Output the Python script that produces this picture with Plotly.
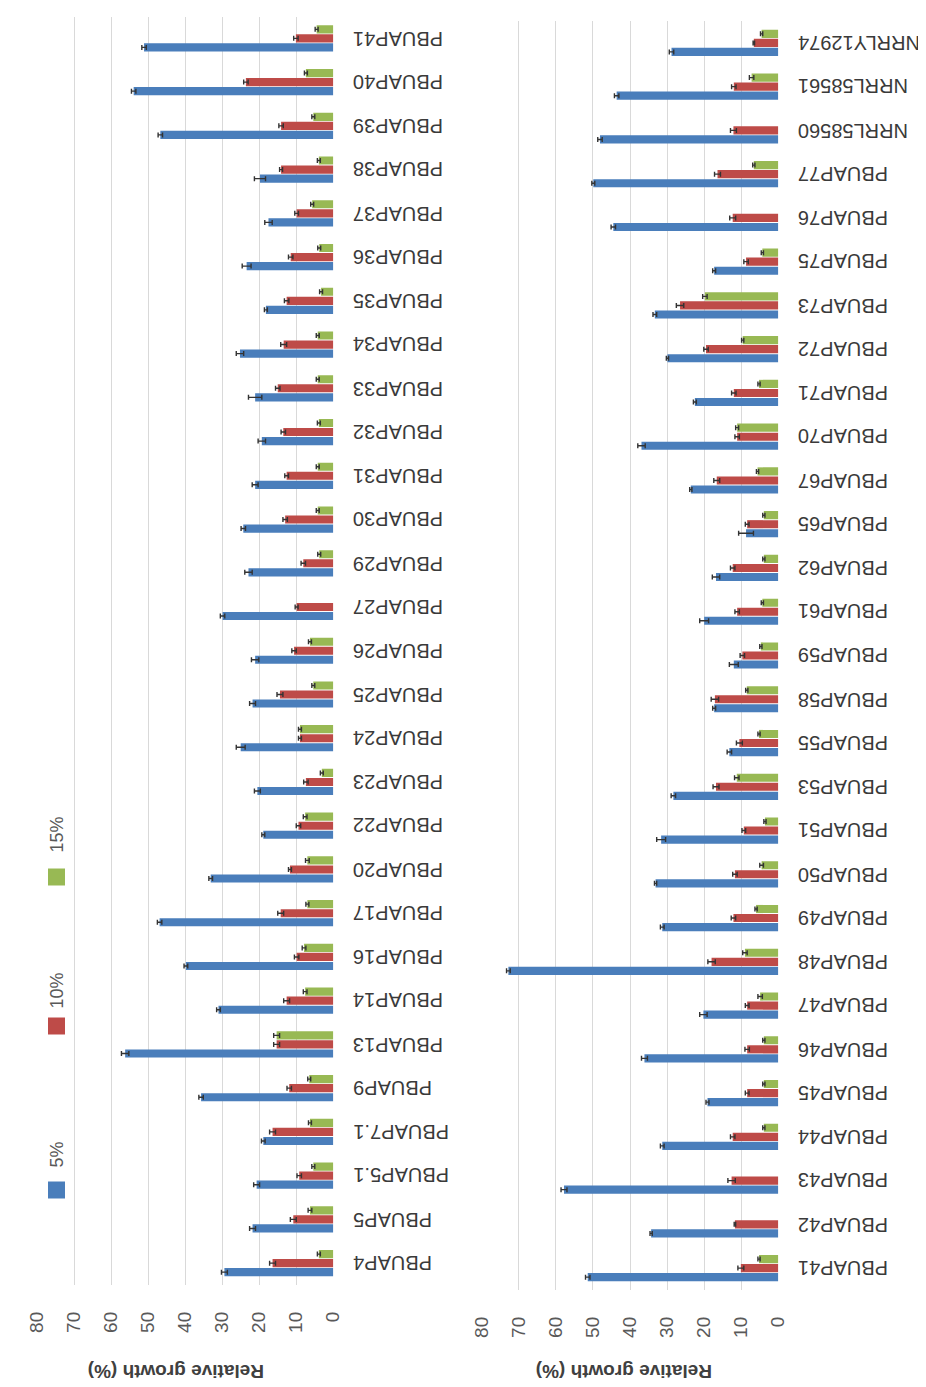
import plotly.graph_objects as go

# ---------------- data (bottom -> top order) ----------------
cats_left = ["PBUAP4", "PBUAP5", "PBUAP5.1", "PBUAP7.1", "PBUAP9", "PBUAP13", "PBUAP14",
             "PBUAP16", "PBUAP17", "PBUAP20", "PBUAP22", "PBUAP23", "PBUAP24", "PBUAP25",
             "PBUAP26", "PBUAP27", "PBUAP29", "PBUAP30", "PBUAP31", "PBUAP32", "PBUAP33",
             "PBUAP34", "PBUAP35", "PBUAP36", "PBUAP37", "PBUAP38", "PBUAP39", "PBUAP40",
             "PBUAP41"]
blue_left = [29.4, 21.8, 20.7, 18.9, 35.7, 56.2, 31.0, 39.8, 46.9, 33.1, 18.9, 20.5, 25.0, 21.8,
             21.1, 29.9, 22.9, 24.3, 21.1, 19.3, 21.1, 25.2, 18.2, 23.4, 17.5, 19.8, 46.7, 53.9, 51.1]
red_left = [16.4, 10.8, 9.2, 16.4, 11.9, 15.3, 12.6, 9.9, 14.2, 11.7, 9.4, 7.4, 9.0, 14.4,
            10.6, 9.9, 8.1, 13.0, 12.6, 13.5, 15.0, 13.4, 12.6, 11.5, 9.9, 14.1, 14.1, 23.6, 10.1]
green_left = [3.9, 6.3, 5.4, 6.3, 6.5, 15.3, 7.6, 7.9, 7.0, 7.0, 7.6, 3.1, 9.0, 5.4,
              6.3, None, 3.8, 4.2, 4.2, 3.9, 4.2, 4.2, 3.3, 3.8, 5.7, 3.9, 5.4, 7.4, 4.5]
blue_left_err = [0.8, 0.8, 0.8, 0.5, 0.6, 1.0, 0.5, 0.5, 0.6, 0.5, 0.4, 0.8, 1.2, 0.8,
                 1.0, 0.6, 1.0, 0.6, 0.8, 1.0, 1.8, 1.0, 0.4, 1.2, 1.0, 1.5, 0.6, 0.6, 0.6]
red_left_err = [0.8, 0.8, 0.6, 0.8, 0.6, 0.8, 0.8, 0.6, 0.8, 0.4, 0.6, 0.6, 0.4, 0.8,
                0.6, 0.4, 0.6, 0.6, 0.5, 0.6, 0.6, 0.8, 0.6, 0.6, 0.5, 0.4, 0.6, 0.6, 0.6]
green_left_err = [0.4, 0.5, 0.4, 0.4, 0.4, 0.8, 0.5, 0.5, 0.4, 0.5, 0.5, 0.4, 0.4, 0.4,
                  0.4, 0, 0.4, 0.4, 0.4, 0.4, 0.4, 0.4, 0.4, 0.4, 0.4, 0.4, 0.4, 0.4, 0.4]

cats_right = ["PBUAP41", "PBUAP42", "PBUAP43", "PBUAP44", "PBUAP45", "PBUAP46", "PBUAP47",
              "PBUAP48", "PBUAP49", "PBUAP50", "PBUAP51", "PBUAP53", "PBUAP55", "PBUAP58",
              "PBUAP59", "PBUAP61", "PBUAP62", "PBUAP65", "PBUAP67", "PBUAP70", "PBUAP71",
              "PBUAP72", "PBUAP73", "PBUAP75", "PBUAP76", "PBUAP77", "NRRL58560", "NRRL58561",
              "NRRLY12974"]
blue_right = [51.4, 34.3, 57.8, 31.3, 19.1, 36.1, 20.2, 72.8, 31.3, 33.1, 31.6, 28.3, 13.2, 17.3,
              12.0, 20.0, 16.8, 8.7, 23.6, 36.9, 22.5, 29.9, 33.3, 17.3, 44.5, 49.9, 48.1, 43.6, 28.8]
red_right = [10.1, 11.7, 12.6, 12.3, 8.4, 8.4, 8.4, 18.0, 12.1, 11.7, 9.3, 16.8, 10.5, 17.1,
             9.7, 11.1, 12.3, 8.4, 16.6, 11.1, 12.0, 19.5, 26.5, 8.7, 12.3, 16.4, 12.1, 12.0, 6.6]
green_right = [5.2, None, None, 3.9, 3.9, 3.9, 4.9, 9.0, 6.0, 4.5, 3.6, 11.2, 5.2, 8.5,
               4.7, 4.3, 3.9, 3.9, 5.6, 11.1, 5.2, 9.6, 19.8, 4.3, None, 6.6, None, 7.2, 4.5]
blue_right_err = [0.6, 0.3, 0.8, 0.5, 0.4, 0.8, 1.0, 0.5, 0.5, 0.3, 1.2, 0.6, 0.6, 0.4,
                  1.2, 1.2, 1.0, 2.0, 0.3, 1.0, 0.4, 0.3, 0.5, 0.4, 0.6, 0.4, 0.6, 0.6, 0.6]
red_right_err = [0.8, 0.2, 1.0, 0.6, 0.5, 0.6, 0.5, 1.0, 0.6, 0.6, 0.5, 0.8, 0.8, 1.0,
                 0.6, 0.6, 0.6, 0.5, 0.8, 0.6, 0.6, 0.6, 1.0, 0.6, 0.8, 0.8, 0.8, 0.6, 0.2]
green_right_err = [0.3, 0, 0, 0.3, 0.3, 0.3, 0.6, 0.6, 0.3, 0.5, 0.3, 0.6, 0.3, 0.3,
                   0.3, 0.3, 0.3, 0.3, 0.3, 0.4, 0.3, 0.3, 0.6, 0.3, 0, 0.3, 0, 0.6, 0.3]

series_names = ["5%", "10%", "15%"]
series_colors = ["#4A7EBB", "#BE4B48", "#98B954"]
x_ticks = [0, 10, 20, 30, 40, 50, 60, 70, 80]
axis_title = "Relative growth (%)"

# ---------------- figure ----------------
# the page body has an 8px margin, so the figure starts at (8, 8) in the window
OFF = 8
W, H = 926 - OFF, 1387 - OFF
FONT = "Liberation Sans, Arial, sans-serif"


def fx(px):
    return (px - OFF) / W


def fy(py):
    return 1 - (py - OFF) / H


fig = go.Figure()

left_sets = [(blue_left, blue_left_err), (red_left, red_left_err), (green_left, green_left_err)]
right_sets = [(blue_right, blue_right_err), (red_right, red_right_err), (green_right, green_right_err)]

for (vals, errs), name, col in zip(left_sets, series_names, series_colors):
    fig.add_trace(go.Bar(
        x=vals, y=cats_left, orientation="h", name=name, marker_color=col,
        marker_line_width=0, xaxis="x", yaxis="y", showlegend=False,
        error_x=dict(type="data", array=errs, color="#333333", thickness=1.4, width=2.5),
    ))
for (vals, errs), name, col in zip(right_sets, series_names, series_colors):
    fig.add_trace(go.Bar(
        x=vals, y=cats_right, orientation="h", name=name, marker_color=col,
        marker_line_width=0, xaxis="x2", yaxis="y2", showlegend=False,
        error_x=dict(type="data", array=errs, color="#333333", thickness=1.4, width=2.5),
    ))

xcommon = dict(range=[80, 0], tickvals=x_ticks, ticktext=[str(v) for v in x_ticks],
               tickangle=-90, showgrid=True, gridcolor="#D9D9D9", gridwidth=1,
               zeroline=False, showline=False, ticks="", ticklabelstandoff=22,
               automargin=False,
               tickfont=dict(family=FONT, size=19, color="#595959"))
ycommon = dict(type="category", showgrid=False, showticklabels=False,
               zeroline=False, showline=False, ticks="", automargin=False)

fig.update_layout(
    width=W, height=H, margin=dict(l=0, r=0, t=0, b=0, autoexpand=False),
    paper_bgcolor="white", plot_bgcolor="white",
    barmode="group", bargap=0.38, bargroupgap=0.1,
    xaxis=dict(domain=[fx(37), fx(333.3)], anchor="y", **xcommon),
    yaxis=dict(domain=[fy(1285), fy(16.5)], anchor="x", categoryorder="array",
               categoryarray=cats_left, range=[-0.5, len(cats_left) - 0.5], **ycommon),
    xaxis2=dict(domain=[fx(481.7), fx(778.3)], anchor="y2", **xcommon),
    yaxis2=dict(domain=[fy(1290), fy(21)], anchor="x2", categoryorder="array",
                categoryarray=cats_right, range=[-0.5, len(cats_right) - 0.5], **ycommon),
)

# category labels (upside down, anchored next to the zero line)
for cats, yref, xpx in ((cats_left, "y", 351), (cats_right, "y2", 796)):
    for c in cats:
        fig.add_annotation(text=c, x=fx(xpx), y=c, xref="paper", yref=yref,
                           xanchor="left", yanchor="middle", showarrow=False, textangle=180,
                           font=dict(family=FONT, size=20, color="#3a3a3a"))

# axis titles (upside down)
for xc in (176, 624):
    fig.add_annotation(text="<b>" + axis_title + "</b>", x=fx(xc), y=fy(1372),
                       xref="paper", yref="paper", xanchor="center", yanchor="middle",
                       showarrow=False, textangle=180,
                       font=dict(family=FONT, size=19, color="#404040"))

# legend (rotated)
legend_pos = [(1190, 1155), (1026, 991), (877, 835)]
for (sq_c, txt_c), name, col in zip(legend_pos, series_names, series_colors):
    fig.add_shape(type="rect", xref="paper", yref="paper",
                  x0=fx(48), x1=fx(65), y0=fy(sq_c + 8.5), y1=fy(sq_c - 8.5),
                  fillcolor=col, line_width=0)
    fig.add_annotation(text=name, x=fx(56.5), y=fy(txt_c), xref="paper", yref="paper",
                       xanchor="center", yanchor="middle",
                       showarrow=False, textangle=-90,
                       font=dict(family=FONT, size=18, color="#595959"))

fig.write_html("out.html")
